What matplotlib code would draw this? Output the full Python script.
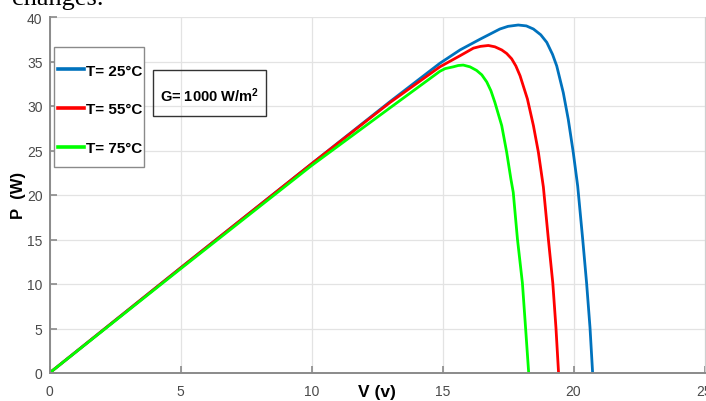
import matplotlib
matplotlib.use("Agg")
import matplotlib.pyplot as plt
import matplotlib.patches as mpatches

# Valeurs (courbes P-V a G = 1000 W/m2)
v_25 = [0, 5, 10, 13, 14.9, 15.67, 16.43, 17.19, 17.5, 17.89, 18.2, 18.47, 18.75, 18.98,
        19.2, 19.36, 19.61, 19.80, 19.99, 20.16, 20.35, 20.50, 20.63, 20.73]
p_25 = [0, 11.8, 23.5, 30.5, 34.8, 36.3, 37.5, 38.65, 38.95, 39.1, 39.0, 38.65, 38.0, 37.15,
        35.8, 34.5, 31.5, 28.5, 24.8, 21.0, 15.06, 10.1, 5.1, 0]

v_55 = [0, 5, 10, 13, 14.9, 15.67, 16.18, 16.45, 16.75, 17.0, 17.26, 17.45, 17.64, 17.8,
        17.96, 18.24, 18.47, 18.66, 18.85, 19.04, 19.21, 19.33, 19.43]
p_55 = [0, 11.8, 23.5, 30.4, 34.4, 35.65, 36.5, 36.7, 36.8, 36.65, 36.3, 35.9, 35.3, 34.5,
        33.4, 30.8, 27.8, 24.8, 20.9, 15.06, 10.1, 5.1, 0]

v_75 = [0, 5, 10, 13, 14.9, 15.1, 15.41, 15.6, 15.79, 16.05, 16.30, 16.5, 16.69, 16.85,
        17.0, 17.26, 17.45, 17.61, 17.70, 17.86, 18.05, 18.17, 18.29]
p_75 = [0, 11.7, 23.3, 29.8, 33.9, 34.2, 34.4, 34.55, 34.6, 34.4, 34.0, 33.5, 32.7, 31.7,
        30.4, 27.8, 24.8, 21.8, 20.3, 15.06, 10.1, 5.1, 0]

labels = ["T= 25°C", "T= 55°C", "T= 75°C"]
colors = ["#0072BD", "#FF0000", "#00FF00"]
x_ticks = [0, 5, 10, 15, 20, 25]
y_ticks = [0, 5, 10, 15, 20, 25, 30, 35, 40]

FONT = ["Liberation Sans", "DejaVu Sans"]
plt.rcParams["font.family"] = FONT
plt.rcParams["mathtext.fontset"] = "custom"
plt.rcParams["mathtext.bf"] = "Liberation Sans:bold"
plt.rcParams["mathtext.default"] = "bf"

W, H = 706, 402
fig = plt.figure(figsize=(W / 100, H / 100), dpi=100)
ax = fig.add_axes([49.5 / W, 1 - 374 / H, 655 / W, 356 / H])

# --- courbes ---
for v, p, c, lab in zip([v_25, v_55, v_75], [p_25, p_55, p_75], colors, labels):
    ax.plot(v, p, color=c, lw=2.0, label=lab, solid_joinstyle="round")

ax.set_xlim(0, 25)
ax.set_ylim(0, 40)
ax.set_xticks(x_ticks)
ax.set_yticks(y_ticks)
ax.grid(True, color="#e3e3e3", lw=0.9)
ax.set_axisbelow(True)

ax.tick_params(direction="in", length=5, width=1.2, color="#8a8a8a",
               labelcolor="#4a4a4a", labelsize=10)
ax.tick_params(axis="x", pad=8)
ax.tick_params(axis="y", pad=5)
for side in ["left", "bottom"]:
    ax.spines[side].set_color("#8a8a8a")
    ax.spines[side].set_linewidth(1.4)
ax.spines["top"].set_visible(False)
ax.spines["right"].set_color("#cfcfcf")

# --- legende (sans cadre, cadre dessine a part) ---
handles, _ = ax.get_legend_handles_labels()
leg = fig.legend(handles, labels, loc="upper left", bbox_to_anchor=(58 / W, 1 - 64.5 / H),
                 borderaxespad=0, borderpad=0,
                 prop={"family": FONT, "weight": "bold", "size": 11},
                 handlelength=1.7, handletextpad=0.15,
                 labelspacing=1.63, frameon=False)
for ln in leg.get_lines():
    ln.set_linewidth(2.6)
leg.set_zorder(5)
fig.patches.append(mpatches.Rectangle((54 / W, 1 - 168 / H), 90 / W, 120 / H,
                                      transform=fig.transFigure, facecolor="white",
                                      edgecolor="#8a8a8a", lw=1.0, zorder=4))

# --- boite G ---
fig.patches.append(mpatches.Rectangle((153 / W, 1 - 117 / H), 113 / W, 46 / H,
                                      transform=fig.transFigure, fill=False,
                                      edgecolor="#333333", lw=1.0))
fig.text(209.5 / W, 1 - 96 / H, r"G= 1000 W/m$^{2}$", ha="center", va="center",
         fontsize=10.5, fontweight="bold")

# --- titres des axes ---
fig.text(19 / W, 1 - 195 / H, "P  (W)", rotation=90, ha="center", va="center",
         fontsize=12, fontweight="bold")
fig.text(377 / W, 1 - 385 / H, "V (v)", ha="center", va="top",
         fontsize=12.5, fontweight="bold")

# texte du document au-dessus (coupe)
fig.text(12 / W, 1 - 5 / H, "changes.", ha="left", va="baseline",
         fontsize=19, family="Liberation Serif")

fig.savefig("out.png", dpi=100)
plt.close(fig)
